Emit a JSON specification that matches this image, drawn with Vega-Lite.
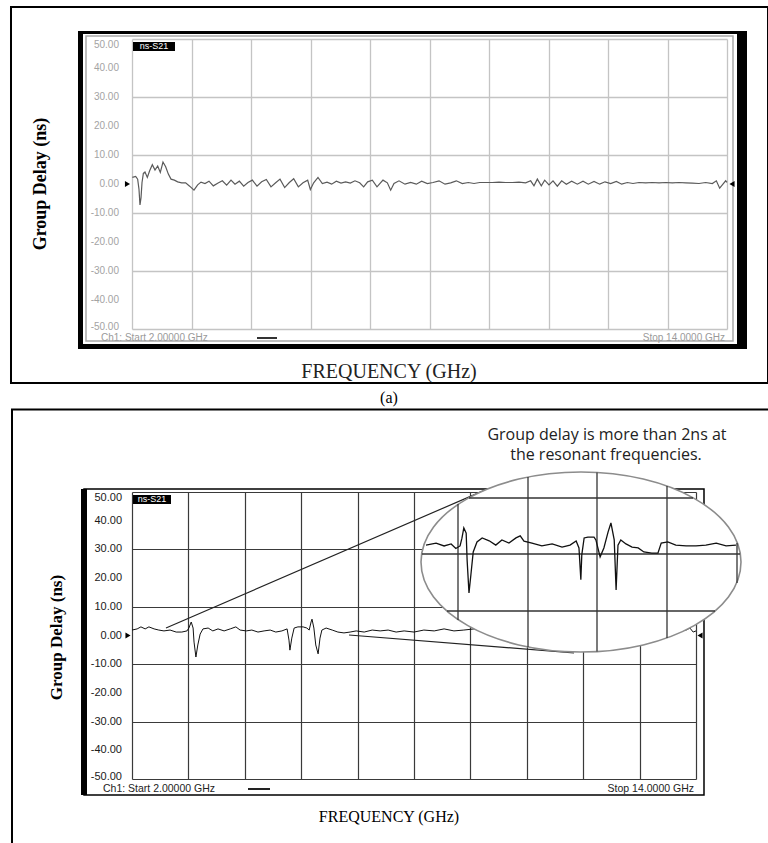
{
  "$schema": "https://vega.github.io/schema/vega-lite/v6.json",
  "padding": {"left": 7, "top": 6, "right": 0, "bottom": 0},
  "background": "white",
  "spacing": 0,
  "config": {"view": {"stroke": null}},
  "datasets": {
    "yTicks": [
      {"delay": 50, "label": "50.00"}, {"delay": 40, "label": "40.00"}, {"delay": 30, "label": "30.00"}, {"delay": 20, "label": "20.00"}, {"delay": 10, "label": "10.00"}, {"delay": 0, "label": "0.00"},
      {"delay": -10, "label": "-10.00"}, {"delay": -20, "label": "-20.00"}, {"delay": -30, "label": "-30.00"}, {"delay": -40, "label": "-40.00"}, {"delay": -50, "label": "-50.00"}
    ],
    "traceA": [
      {"freq":2.007,"delay":2.26},{"freq":2.074,"delay":2.61},{"freq":2.114,"delay":1.68},{"freq":2.141,"delay":-1.8},{"freq":2.161,"delay":-7.24},{"freq":2.182,"delay":-4.69},{"freq":2.202,"delay":0.52},{"freq":2.229,"delay":3.65},{"freq":2.262,"delay":4.11},{"freq":2.309,"delay":2.26},{"freq":2.356,"delay":4.58},{"freq":2.41,"delay":6.66},{"freq":2.464,"delay":4.81},{"freq":2.518,"delay":6.2},{"freq":2.571,"delay":4.0},{"freq":2.625,"delay":7.59},{"freq":2.679,"delay":5.97},{"freq":2.733,"delay":3.42},{"freq":2.787,"delay":1.68},{"freq":2.854,"delay":1.33},{"freq":2.921,"delay":0.75},{"freq":3.002,"delay":0.41},{"freq":3.082,"delay":0.41},{"freq":3.163,"delay":-0.75},{"freq":3.25,"delay":-2.14},{"freq":3.324,"delay":-0.29},{"freq":3.392,"delay":0.64},{"freq":3.472,"delay":0.17},{"freq":3.553,"delay":0.98},{"freq":3.64,"delay":-0.64},{"freq":3.728,"delay":0.29},{"freq":3.822,"delay":1.1},{"freq":3.909,"delay":-0.41},{"freq":3.997,"delay":1.33},{"freq":4.077,"delay":-0.06},{"freq":4.165,"delay":0.98},{"freq":4.252,"delay":-0.75},{"freq":4.339,"delay":0.52},{"freq":4.427,"delay":1.33},{"freq":4.521,"delay":-0.75},{"freq":4.615,"delay":0.75},{"freq":4.709,"delay":1.56},{"freq":4.803,"delay":-0.98},{"freq":4.897,"delay":0.41},{"freq":4.985,"delay":1.68},{"freq":5.079,"delay":-1.22},{"freq":5.173,"delay":0.52},{"freq":5.261,"delay":1.8},{"freq":5.355,"delay":-0.98},{"freq":5.449,"delay":0.41},{"freq":5.543,"delay":1.33},{"freq":5.597,"delay":-1.91},{"freq":5.664,"delay":0.41},{"freq":5.751,"delay":2.26},{"freq":5.839,"delay":0.17},{"freq":5.933,"delay":0.64},{"freq":6.027,"delay":-0.06},{"freq":6.121,"delay":0.98},{"freq":6.215,"delay":0.29},{"freq":6.309,"delay":0.75},{"freq":6.403,"delay":0.29},{"freq":6.497,"delay":1.1},{"freq":6.592,"delay":0.41},{"freq":6.672,"delay":-0.98},{"freq":6.753,"delay":0.75},{"freq":6.847,"delay":1.33},{"freq":6.941,"delay":-0.98},{"freq":7.062,"delay":1.33},{"freq":7.15,"delay":0.41},{"freq":7.217,"delay":-2.14},{"freq":7.284,"delay":0.17},{"freq":7.385,"delay":1.1},{"freq":7.506,"delay":-0.06},{"freq":7.62,"delay":0.52},{"freq":7.734,"delay":-0.06},{"freq":7.842,"delay":0.98},{"freq":7.956,"delay":0.17},{"freq":8.071,"delay":0.52},{"freq":8.192,"delay":1.1},{"freq":8.313,"delay":-0.06},{"freq":8.427,"delay":0.41},{"freq":8.541,"delay":1.1},{"freq":8.662,"delay":0.17},{"freq":8.783,"delay":0.52},{"freq":8.898,"delay":0.17},{"freq":9.012,"delay":0.52},{"freq":9.133,"delay":0.52},{"freq":9.267,"delay":0.52},{"freq":9.402,"delay":0.64},{"freq":9.536,"delay":0.52},{"freq":9.671,"delay":0.52},{"freq":9.805,"delay":0.64},{"freq":9.939,"delay":0.41},{"freq":10.04,"delay":1.1},{"freq":10.107,"delay":-0.64},{"freq":10.175,"delay":1.68},{"freq":10.255,"delay":-0.64},{"freq":10.323,"delay":1.33},{"freq":10.41,"delay":-0.29},{"freq":10.491,"delay":1.1},{"freq":10.578,"delay":-0.75},{"freq":10.666,"delay":1.1},{"freq":10.76,"delay":-0.06},{"freq":10.867,"delay":0.98},{"freq":10.982,"delay":-0.06},{"freq":11.096,"delay":0.98},{"freq":11.203,"delay":-0.06},{"freq":11.318,"delay":0.87},{"freq":11.432,"delay":-0.06},{"freq":11.54,"delay":0.75},{"freq":11.654,"delay":0.17},{"freq":11.768,"delay":0.87},{"freq":11.876,"delay":-0.06},{"freq":11.99,"delay":0.52},{"freq":12.104,"delay":0.17},{"freq":12.225,"delay":0.52},{"freq":12.36,"delay":0.41},{"freq":12.494,"delay":0.52},{"freq":12.629,"delay":0.41},{"freq":12.763,"delay":0.52},{"freq":12.897,"delay":0.41},{"freq":13.032,"delay":0.52},{"freq":13.166,"delay":0.41},{"freq":13.301,"delay":0.29},{"freq":13.435,"delay":0.17},{"freq":13.57,"delay":0.52},{"freq":13.704,"delay":0.17},{"freq":13.785,"delay":1.1},{"freq":13.852,"delay":-1.45},{"freq":13.906,"delay":-0.29},{"freq":13.973,"delay":1.1},{"freq":14.0,"delay":0.52}
    ],
    "traceB": [
      {"freq":2.0,"delay":1.9},{"freq":2.11,"delay":2.3},{"freq":2.19,"delay":3.0},{"freq":2.28,"delay":2.3},{"freq":2.36,"delay":3.0},{"freq":2.47,"delay":2.3},{"freq":2.57,"delay":1.9},{"freq":2.68,"delay":1.6},{"freq":2.81,"delay":1.9},{"freq":2.94,"delay":1.2},{"freq":3.06,"delay":1.2},{"freq":3.17,"delay":1.6},{"freq":3.21,"delay":2.6},{"freq":3.26,"delay":4.7},{"freq":3.3,"delay":2.6},{"freq":3.32,"delay":-2.3},{"freq":3.36,"delay":-7.5},{"freq":3.4,"delay":-3.3},{"freq":3.45,"delay":0.5},{"freq":3.51,"delay":2.3},{"freq":3.62,"delay":2.6},{"freq":3.72,"delay":1.6},{"freq":3.83,"delay":2.3},{"freq":3.96,"delay":1.6},{"freq":4.09,"delay":2.3},{"freq":4.21,"delay":3.0},{"freq":4.3,"delay":1.9},{"freq":4.43,"delay":1.6},{"freq":4.55,"delay":1.9},{"freq":4.68,"delay":1.2},{"freq":4.81,"delay":1.6},{"freq":4.94,"delay":1.9},{"freq":5.06,"delay":1.2},{"freq":5.19,"delay":1.6},{"freq":5.3,"delay":2.3},{"freq":5.34,"delay":-1.6},{"freq":5.36,"delay":-5.1},{"freq":5.4,"delay":-0.9},{"freq":5.45,"delay":2.6},{"freq":5.53,"delay":3.0},{"freq":5.64,"delay":3.0},{"freq":5.72,"delay":2.6},{"freq":5.77,"delay":1.9},{"freq":5.81,"delay":4.7},{"freq":5.83,"delay":5.7},{"freq":5.87,"delay":2.6},{"freq":5.91,"delay":-3.3},{"freq":5.96,"delay":-6.4},{"freq":6.0,"delay":-0.9},{"freq":6.04,"delay":1.9},{"freq":6.13,"delay":2.6},{"freq":6.26,"delay":1.9},{"freq":6.38,"delay":1.2},{"freq":6.51,"delay":0.9},{"freq":6.64,"delay":1.2},{"freq":6.77,"delay":1.6},{"freq":6.94,"delay":1.2},{"freq":7.11,"delay":1.9},{"freq":7.28,"delay":1.6},{"freq":7.45,"delay":1.9},{"freq":7.62,"delay":1.2},{"freq":7.79,"delay":1.6},{"freq":8.0,"delay":1.2},{"freq":8.21,"delay":1.9},{"freq":8.43,"delay":1.6},{"freq":8.64,"delay":2.3},{"freq":8.85,"delay":1.6},{"freq":9.06,"delay":1.9},{"freq":9.28,"delay":2.3},{"freq":9.49,"delay":1.6},{"freq":9.91,"delay":1.6},{"freq":10.77,"delay":1.2},{"freq":11.62,"delay":2.0},{"freq":12.47,"delay":1.6},{"freq":13.32,"delay":1.2},{"freq":13.66,"delay":1.6},{"freq":13.79,"delay":1.9},{"freq":13.87,"delay":2.6},{"freq":13.94,"delay":1.2},{"freq":14.0,"delay":1.6}
    ],
    "insetB": [
      {"freq":8.255,"delay":31.5},{"freq":8.47,"delay":32.2},{"freq":8.64,"delay":31.2},{"freq":8.79,"delay":31.9},{"freq":8.89,"delay":30.3},{"freq":8.98,"delay":31.2},{"freq":9.02,"delay":33.9},{"freq":9.06,"delay":37.5},{"freq":9.11,"delay":35.7},{"freq":9.13,"delay":26.3},{"freq":9.17,"delay":14.8},{"freq":9.21,"delay":21.1},{"freq":9.26,"delay":29.1},{"freq":9.34,"delay":32.6},{"freq":9.45,"delay":34.0},{"freq":9.6,"delay":33.0},{"freq":9.74,"delay":31.5},{"freq":9.87,"delay":33.3},{"freq":10.02,"delay":32.2},{"freq":10.17,"delay":34.0},{"freq":10.26,"delay":34.7},{"freq":10.34,"delay":32.9},{"freq":10.51,"delay":32.2},{"freq":10.72,"delay":31.2},{"freq":10.94,"delay":31.9},{"freq":11.15,"delay":30.8},{"freq":11.32,"delay":31.5},{"freq":11.45,"delay":32.9},{"freq":11.51,"delay":30.5},{"freq":11.55,"delay":19.4},{"freq":11.57,"delay":28.1},{"freq":11.62,"delay":34.0},{"freq":11.7,"delay":34.3},{"freq":11.83,"delay":34.3},{"freq":11.87,"delay":33.3},{"freq":11.96,"delay":27.4},{"freq":12.04,"delay":30.5},{"freq":12.13,"delay":36.1},{"freq":12.19,"delay":39.2},{"freq":12.26,"delay":33.3},{"freq":12.3,"delay":15.9},{"freq":12.34,"delay":31.5},{"freq":12.4,"delay":33.3},{"freq":12.51,"delay":31.9},{"freq":12.64,"delay":30.8},{"freq":12.77,"delay":30.5},{"freq":12.89,"delay":29.1},{"freq":13.06,"delay":28.7},{"freq":13.19,"delay":28.7},{"freq":13.26,"delay":32.2},{"freq":13.4,"delay":32.6},{"freq":13.57,"delay":31.5},{"freq":13.79,"delay":31.2},{"freq":14.0,"delay":31.2},{"freq":14.21,"delay":31.5},{"freq":14.43,"delay":32.2},{"freq":14.64,"delay":31.2},{"freq":14.85,"delay":31.5}
    ],
    "insetGrid": [
      {"f1":8.9362,"f2":8.9362,"d1":45.82,"d2":5.4},
      {"f1":10.4255,"f2":10.4255,"d1":55.23,"d2":-3.98},
      {"f1":11.8936,"f2":11.8936,"d1":56.79,"d2":-5.57},
      {"f1":13.383,"f2":13.383,"d1":52.09,"d2":-0.87},
      {"f1":14.8723,"f2":14.8723,"d1":32.23,"d2":18.29},
      {"f1":9.1702,"f2":13.9362,"d1":47.91,"d2":47.91},
      {"f1":8.1702,"f2":14.9362,"d1":28.4,"d2":28.4},
      {"f1":8.7021,"f2":14.4043,"d1":8.54,"d2":8.54}
    ]
  },
  "vconcat": [
    {
      "width": 595,
      "height": 290,
      "layer": [
        {
          "data": {"name": "traceA"},
          "mark": {"type": "line", "color": "#5a5a5a", "strokeWidth": 1.2, "clip": false},
          "encoding": {
            "x": {"field": "freq", "type": "quantitative", "scale": {"domain": [2, 14], "nice": false, "zero": false},
                  "axis": {"title": null, "values": [2, 3.2, 4.4, 5.6, 6.8, 8, 9.2, 10.4, 11.6, 12.8, 14], "labels": false, "ticks": false, "domain": false, "grid": true, "gridColor": "#c4c4c4", "gridWidth": 1.3}},
            "y": {"field": "delay", "type": "quantitative", "scale": {"domain": [-50, 50], "nice": false, "zero": false},
                  "axis": {"title": null, "values": [-50, -40, -30, -20, -10, 0, 10, 20, 30, 40, 50], "labels": false, "ticks": false, "domain": false, "grid": true, "gridColor": "#c4c4c4", "gridWidth": 1.3}}
          }
        },
        {"data": {"name": "yTicks"}, "transform": [{"filter": "datum.delay < 50 && datum.delay > -50"}],
         "mark": {"type": "text", "color": "#a3a3a3", "font": "Liberation Sans", "fontSize": 10, "align": "right", "baseline": "middle", "clip": false},
         "encoding": {"x": {"datum": 1.7378}, "y": {"field": "delay", "type": "quantitative"}, "text": {"field": "label"}}},
        {"data": {"name": "yTicks"}, "transform": [{"filter": "datum.delay == 50"}],
         "mark": {"type": "text", "color": "#a3a3a3", "font": "Liberation Sans", "fontSize": 10, "align": "right", "baseline": "top", "dy": 1, "clip": false},
         "encoding": {"x": {"datum": 1.7378}, "y": {"field": "delay", "type": "quantitative"}, "text": {"field": "label"}}},
        {"data": {"name": "yTicks"}, "transform": [{"filter": "datum.delay == -50"}],
         "mark": {"type": "text", "color": "#a3a3a3", "font": "Liberation Sans", "fontSize": 10, "align": "right", "baseline": "middle", "dy": -2, "clip": false},
         "encoding": {"x": {"datum": 1.7378}, "y": {"field": "delay", "type": "quantitative"}, "text": {"field": "label"}}},
        {"data": {"values": [{}]}, "mark": {"type": "rule", "opacity": 0, "strokeWidth": 2},
         "encoding": {"x": {"datum": -0.521}, "y": {"datum": 61.034}, "y2": {"datum": -77.069}}},
        {"data": {"values": [{}]}, "mark": {"type": "rect", "fill": null, "stroke": "black", "strokeWidth": 2, "clip": false},
         "encoding": {"x": {"datum": -0.4404}, "x2": {"datum": 14.827}, "y": {"datum": 61.034}, "y2": {"datum": -68.621}}},
        {"data": {"values": [{}]}, "mark": {"type": "rect", "fill": "black", "clip": false},
         "encoding": {"x": {"datum": 0.9109}, "x2": {"datum": 1.0118}, "y": {"datum": 52.759}, "y2": {"datum": -56.897}}},
        {"data": {"values": [{}]}, "mark": {"type": "rect", "fill": "black", "clip": false},
         "encoding": {"x": {"datum": 0.9109}, "x2": {"datum": 14.4034}, "y": {"datum": 52.759}, "y2": {"datum": 51.724}}},
        {"data": {"values": [{}]}, "mark": {"type": "rect", "fill": "black", "clip": false},
         "encoding": {"x": {"datum": 14.2017}, "x2": {"datum": 14.4034}, "y": {"datum": 52.759}, "y2": {"datum": -56.897}}},
        {"data": {"values": [{}]}, "mark": {"type": "rect", "fill": "black", "clip": false},
         "encoding": {"x": {"datum": 0.9109}, "x2": {"datum": 14.4034}, "y": {"datum": -55.172}, "y2": {"datum": -56.897}}},
        {"data": {"values": [{}]}, "mark": {"type": "rect", "fill": null, "stroke": "#a8a8a8", "strokeWidth": 1.5, "clip": false},
         "encoding": {"x": {"datum": 1.0723}, "x2": {"datum": 14.121}, "y": {"datum": 51.034}, "y2": {"datum": -54.138}}},
        {"data": {"values": [{}]}, "mark": {"type": "rect", "fill": "black", "clip": false},
         "encoding": {"x": {"datum": 2.0202}, "x2": {"datum": 2.8672}, "y": {"datum": 48.966}, "y2": {"datum": 45.862}}},
        {"data": {"values": [{}]}, "mark": {"type": "text", "text": "ns-S21", "color": "white", "font": "Liberation Sans", "fontSize": 9, "align": "center", "baseline": "middle", "clip": false},
         "encoding": {"x": {"datum": 2.4437}, "y": {"datum": 47.414}}},
        {"data": {"values": [{}]}, "mark": {"type": "point", "shape": "triangle-right", "filled": true, "color": "black", "size": 35, "opacity": 1, "clip": false},
         "encoding": {"x": {"datum": 1.909}, "y": {"datum": 0}}},
        {"data": {"values": [{}]}, "mark": {"type": "point", "shape": "triangle-left", "filled": true, "color": "black", "size": 35, "opacity": 1, "clip": false},
         "encoding": {"x": {"datum": 14.1008}, "y": {"datum": 0}}},
        {"data": {"values": [{}]}, "mark": {"type": "text", "text": "Ch1: Start  2.00000 GHz", "color": "#9a9a9a", "font": "Liberation Sans", "fontSize": 10, "align": "left", "baseline": "middle", "clip": false},
         "encoding": {"x": {"datum": 1.3748}, "y": {"datum": -53.103}}},
        {"data": {"values": [{}]}, "mark": {"type": "rule", "color": "#333333", "strokeWidth": 2, "clip": false},
         "encoding": {"x": {"datum": 4.521}, "x2": {"datum": 4.924}, "y": {"datum": -53.103}}},
        {"data": {"values": [{}]}, "mark": {"type": "text", "text": "Stop  14.0000 GHz", "color": "#9a9a9a", "font": "Liberation Sans", "fontSize": 10, "align": "right", "baseline": "middle", "clip": false},
         "encoding": {"x": {"datum": 13.96}, "y": {"datum": -53.103}}},
        {"data": {"values": [{}]}, "mark": {"type": "text", "text": "Group Delay (ns)", "angle": 270, "color": "black", "font": "Liberation Serif", "fontWeight": "bold", "fontSize": 18, "align": "center", "baseline": "middle", "clip": false},
         "encoding": {"x": {"datum": 0.1647}, "y": {"datum": 0}}},
        {"data": {"values": [{}]}, "mark": {"type": "text", "text": "FREQUENCY (GHz)", "color": "#222222", "font": "Liberation Serif", "fontSize": 20, "align": "center", "baseline": "middle", "clip": false},
         "encoding": {"x": {"datum": 7.183}, "y": {"datum": -64.83}}},
        {"data": {"values": [{}]}, "mark": {"type": "text", "text": "(a)", "color": "black", "font": "Liberation Serif", "fontSize": 16, "align": "center", "baseline": "middle", "clip": false},
         "encoding": {"x": {"datum": 7.183}, "y": {"datum": -73.79}}}
      ]
    },
    {
      "width": 564,
      "height": 287,
      "layer": [
        {
          "data": {"name": "traceB"},
          "mark": {"type": "line", "color": "#111111", "strokeWidth": 1, "clip": false},
          "encoding": {
            "x": {"field": "freq", "type": "quantitative", "scale": {"domain": [2, 14], "nice": false, "zero": false},
                  "axis": {"title": null, "values": [2, 3.2, 4.4, 5.6, 6.8, 8, 9.2, 10.4, 11.6, 12.8, 14], "labels": false, "ticks": false, "domain": false, "grid": true, "gridColor": "#3a3a3a", "gridWidth": 1.2}},
            "y": {"field": "delay", "type": "quantitative", "scale": {"domain": [-50, 50], "nice": false, "zero": false},
                  "axis": {"title": null, "values": [-50, -40, -30, -20, -10, 0, 10, 20, 30, 40, 50], "labels": false, "ticks": false, "domain": false, "grid": true, "gridColor": "#3a3a3a", "gridWidth": 1.2}}
          }
        },
        {"data": {"name": "yTicks"}, "transform": [{"filter": "datum.delay < 50 && datum.delay > -50"}],
         "mark": {"type": "text", "color": "#1a1a1a", "font": "Liberation Sans", "fontSize": 11, "align": "right", "baseline": "middle", "clip": false},
         "encoding": {"x": {"datum": 1.7872}, "y": {"field": "delay", "type": "quantitative"}, "text": {"field": "label"}}},
        {"data": {"name": "yTicks"}, "transform": [{"filter": "datum.delay == 50"}],
         "mark": {"type": "text", "color": "#1a1a1a", "font": "Liberation Sans", "fontSize": 11, "align": "right", "baseline": "top", "dy": 0, "clip": false},
         "encoding": {"x": {"datum": 1.7872}, "y": {"field": "delay", "type": "quantitative"}, "text": {"field": "label"}}},
        {"data": {"name": "yTicks"}, "transform": [{"filter": "datum.delay == -50"}],
         "mark": {"type": "text", "color": "#1a1a1a", "font": "Liberation Sans", "fontSize": 11, "align": "right", "baseline": "middle", "dy": -2, "clip": false},
         "encoding": {"x": {"datum": 1.7872}, "y": {"field": "delay", "type": "quantitative"}, "text": {"field": "label"}}},
        {"data": {"values": [{}]}, "mark": {"type": "rect", "fill": null, "stroke": "black", "strokeWidth": 2, "clip": false},
         "encoding": {"x": {"datum": -0.5532}, "x2": {"datum": 15.6383}, "y": {"datum": 78.746}, "y2": {"datum": -74.739}}},
        {"data": {"values": [{}]}, "mark": {"type": "rect", "fill": null, "stroke": "black", "strokeWidth": 1.5, "clip": false},
         "encoding": {"x": {"datum": 0.9787}, "x2": {"datum": 14.1702}, "y": {"datum": 51.045}, "y2": {"datum": -55.575}}},
        {"data": {"values": [{}]}, "mark": {"type": "rect", "fill": "black", "clip": false},
         "encoding": {"x": {"datum": 0.9149}, "x2": {"datum": 1.0426}, "y": {"datum": 51.045}, "y2": {"datum": -55.575}}},
        {"data": {"values": [{}]}, "mark": {"type": "rect", "fill": "black", "clip": false},
         "encoding": {"x": {"datum": 2.0213}, "x2": {"datum": 2.8298}, "y": {"datum": 48.955}, "y2": {"datum": 45.819}}},
        {"data": {"values": [{}]}, "mark": {"type": "text", "text": "ns-S21", "color": "white", "font": "Liberation Sans", "fontSize": 9, "align": "center", "baseline": "middle", "clip": false},
         "encoding": {"x": {"datum": 2.4255}, "y": {"datum": 47.387}}},
        {"data": {"values": [{}]}, "mark": {"type": "point", "shape": "triangle-right", "filled": true, "color": "black", "size": 35, "opacity": 1, "clip": false},
         "encoding": {"x": {"datum": 1.9149}, "y": {"datum": 0}}},
        {"data": {"values": [{}]}, "mark": {"type": "point", "shape": "triangle-left", "filled": true, "color": "black", "size": 35, "opacity": 1, "clip": false},
         "encoding": {"x": {"datum": 14.0851}, "y": {"datum": 0}}},
        {"data": {"values": [{}]}, "mark": {"type": "rule", "color": "#222222", "strokeWidth": 1.2, "clip": false},
         "encoding": {"x": {"datum": 2.7234}, "x2": {"datum": 9.5319}, "y": {"datum": 2.613}, "y2": {"datum": 50.836}}},
        {"data": {"values": [{}]}, "mark": {"type": "rule", "color": "#222222", "strokeWidth": 1.2, "clip": false},
         "encoding": {"x": {"datum": 6.617}, "x2": {"datum": 11.404}, "y": {"datum": 0.174}, "y2": {"datum": -6.1}}},
        {"data": {"values": [{}]}, "mark": {"type": "point", "shape": "M -1 0 C -1 -0.3107 -0.5523 -0.5625 0 -0.5625 C 0.5523 -0.5625 1 -0.3107 1 0 C 1 0.3107 0.5523 0.5625 0 0.5625 C -0.5523 0.5625 -1 0.3107 -1 0 Z", "filled": true, "fill": "white", "fillOpacity": 1, "stroke": "#8c8c8c", "strokeWidth": 1.6, "strokeOpacity": 1, "size": 102400, "clip": false},
         "encoding": {"x": {"datum": 11.5532}, "y": {"datum": 25.61}}},
        {"data": {"name": "insetGrid"}, "mark": {"type": "rule", "color": "#333333", "strokeWidth": 1.3, "clip": false},
         "encoding": {"x": {"field": "f1", "type": "quantitative"}, "x2": {"field": "f2"}, "y": {"field": "d1", "type": "quantitative"}, "y2": {"field": "d2"}}},
        {"data": {"name": "insetB"}, "mark": {"type": "line", "color": "#111111", "strokeWidth": 1.3, "clip": false},
         "encoding": {"x": {"field": "freq", "type": "quantitative"}, "y": {"field": "delay", "type": "quantitative"}}},
        {"data": {"values": [{}]}, "mark": {"type": "text", "text": "Ch1: Start  2.00000 GHz", "color": "#222222", "font": "Liberation Sans", "fontSize": 10.5, "align": "left", "baseline": "middle", "clip": false},
         "encoding": {"x": {"datum": 1.383}, "y": {"datum": -53.48}}},
        {"data": {"values": [{}]}, "mark": {"type": "rule", "color": "#222222", "strokeWidth": 2, "clip": false},
         "encoding": {"x": {"datum": 4.468}, "x2": {"datum": 4.936}, "y": {"datum": -53.48}}},
        {"data": {"values": [{}]}, "mark": {"type": "text", "text": "Stop  14.0000 GHz", "color": "#222222", "font": "Liberation Sans", "fontSize": 10.5, "align": "right", "baseline": "middle", "clip": false},
         "encoding": {"x": {"datum": 13.957}, "y": {"datum": -53.48}}},
        {"data": {"values": [{}]}, "mark": {"type": "text", "text": "Group Delay (ns)", "angle": 270, "color": "black", "font": "Liberation Serif", "fontWeight": "bold", "fontSize": 17, "align": "center", "baseline": "middle", "clip": false},
         "encoding": {"x": {"datum": 0.4043}, "y": {"datum": -0.7}}},
        {"data": {"values": [{}]}, "mark": {"type": "text", "text": "FREQUENCY (GHz)", "color": "black", "font": "Liberation Serif", "fontSize": 16, "align": "center", "baseline": "middle", "clip": false},
         "encoding": {"x": {"datum": 7.468}, "y": {"datum": -63.24}}},
        {"data": {"values": [{}]}, "mark": {"type": "text", "text": "Group delay is more than 2ns at", "color": "#222222", "font": "Open Sans", "fontSize": 16, "align": "center", "baseline": "middle", "clip": false},
         "encoding": {"x": {"datum": 12.106}, "y": {"datum": 69.86}}},
        {"data": {"values": [{}]}, "mark": {"type": "text", "text": "the resonant frequencies.", "color": "#222222", "font": "Open Sans", "fontSize": 16, "align": "center", "baseline": "middle", "clip": false},
         "encoding": {"x": {"datum": 12.085}, "y": {"datum": 62.89}}}
      ]
    }
  ]
}
